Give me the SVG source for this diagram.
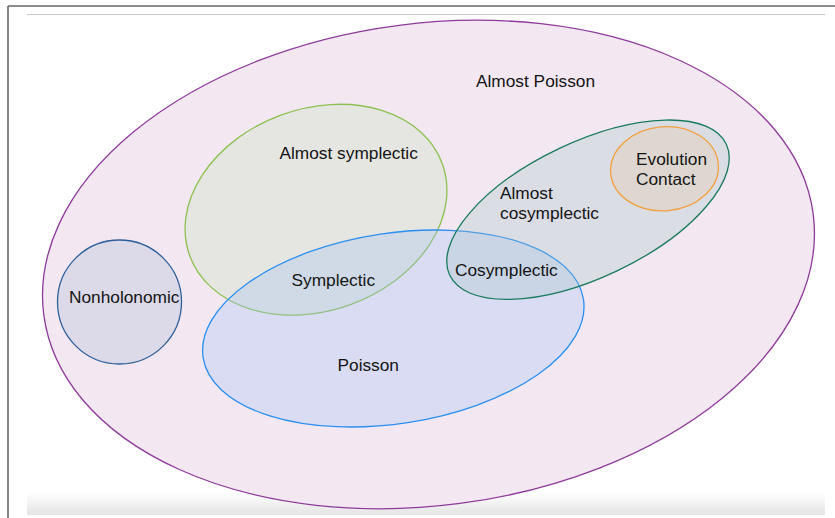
<svg xmlns="http://www.w3.org/2000/svg" width="835" height="518" viewBox="0 0 835 518">
  <defs>
    <linearGradient id="bottomFade" x1="0" y1="0" x2="0" y2="1">
      <stop offset="0" stop-color="#ffffff"/>
      <stop offset="1" stop-color="#e4e4e4"/>
    </linearGradient>
  </defs>
  <style>
    .lbl { font-family: "Liberation Sans", Arial, Helvetica, sans-serif; font-size: 17.3px; fill: #141414; }
    .set { stroke-width: 1.3; }
  </style>
  <rect x="0" y="0" width="835" height="518" fill="#ffffff"/>
  <g id="frame">
    <rect x="27" y="492" width="798" height="23" fill="url(#bottomFade)"/>
    <line x1="8" y1="6" x2="835" y2="6" stroke="#666666" stroke-width="1.6"/>
    <line x1="8" y1="6" x2="8" y2="518" stroke="#666666" stroke-width="1.6"/>
    <line x1="27" y1="14.5" x2="825" y2="14.5" stroke="#c8c8c8" stroke-width="1"/>
  </g>
  <g id="almost-poisson">
    <ellipse class="set" cx="428.5" cy="264.5" rx="388" ry="241" transform="rotate(-7.5 428.5 264.5)" fill="#f3e8f2" stroke="#8e3a9a"/>
    <text class="lbl" x="476" y="87">Almost Poisson</text>
  </g>
  <g id="nonholonomic">
    <circle class="set" cx="119.5" cy="302" r="62" fill="#c5cade" fill-opacity="0.5" stroke="#2d5f9a"/>
    <text class="lbl" x="69" y="303">Nonholonomic</text>
  </g>
  <g id="almost-symplectic">
    <ellipse class="set" cx="316" cy="209.7" rx="134.4" ry="101" transform="rotate(-20 316 209.7)" fill="#c8deb9" fill-opacity="0.3" stroke="#8cc152"/>
    <text class="lbl" x="279.5" y="159">Almost symplectic</text>
  </g>
  <g id="poisson">
    <ellipse class="set" cx="393.3" cy="328.5" rx="192.4" ry="95.2" transform="rotate(-8.7 393.3 328.5)" fill="#a0c0f2" fill-opacity="0.3" stroke="#2a8ff0"/>
    <text class="lbl" x="337.5" y="371">Poisson</text>
  </g>
  <g id="symplectic">
    <text class="lbl" x="291.5" y="286">Symplectic</text>
  </g>
  <g id="almost-cosymplectic">
    <ellipse class="set" cx="588" cy="209.7" rx="153" ry="67.7" transform="rotate(-25.4 588 209.7)" fill="#a6c3c7" fill-opacity="0.3" stroke="#1a7a5e"/>
    <text class="lbl" x="500" y="198.5">Almost</text>
    <text class="lbl" x="500" y="218.5">cosymplectic</text>
  </g>
  <g id="cosymplectic">
    <text class="lbl" x="455" y="276">Cosymplectic</text>
  </g>
  <g id="evolution-contact">
    <ellipse class="set" cx="664.5" cy="168.7" rx="54" ry="42" transform="rotate(-5 664.5 168.7)" fill="#e3d0b8" fill-opacity="0.45" stroke="#f2a03d"/>
    <text class="lbl" x="636" y="165">Evolution</text>
    <text class="lbl" x="636" y="185">Contact</text>
  </g>
  <g id="connectors"></g>
</svg>
